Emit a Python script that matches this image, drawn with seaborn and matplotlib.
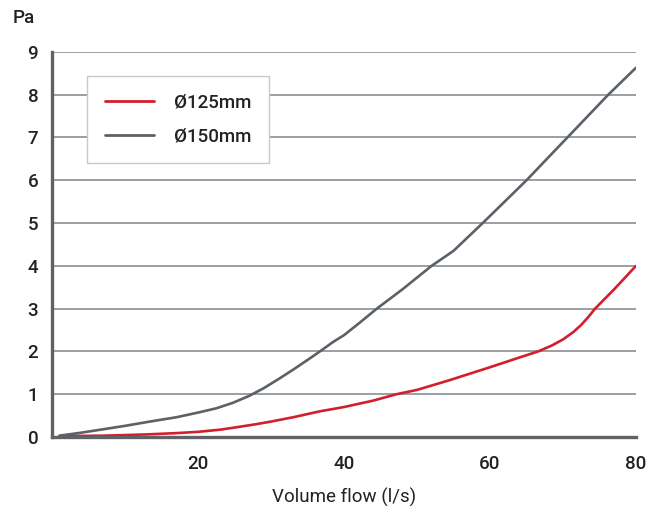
import numpy as np
import pandas as pd
import matplotlib
matplotlib.use("Agg")
import matplotlib.pyplot as plt
import seaborn as sns

# Data
x_125 = [1, 7, 13, 17, 20, 23, 25, 28, 30, 33, 36.7, 40, 44, 47.2, 50, 54.5, 60, 63, 66.6, 68.5, 70, 71.4, 72.5, 73.5, 74.4, 77, 80]
y_125 = [0.02, 0.03, 0.06, 0.09, 0.12, 0.17, 0.22, 0.3, 0.36, 0.46, 0.6, 0.7, 0.85, 1.0, 1.1, 1.33, 1.63, 1.8, 2.0, 2.14, 2.28, 2.45, 2.62, 2.81, 3.0, 3.45, 4.0]

x_150 = [1, 4, 7, 10, 13.4, 17, 20, 22.5, 24.8, 27, 29, 31, 33, 35, 36.7, 38.5, 40, 42, 44.5, 48, 52, 55, 59, 65, 70.6, 76.2, 80]
y_150 = [0.03, 0.1, 0.18, 0.26, 0.36, 0.46, 0.57, 0.67, 0.8, 0.96, 1.14, 1.35, 1.57, 1.8, 2.0, 2.22, 2.38, 2.65, 3.0, 3.45, 4.0, 4.35, 5.0, 6.0, 7.0, 8.0, 8.63]

labels = ["Ø125mm", "Ø150mm"]
x_ticks = [20, 40, 60, 80]
y_ticks = list(range(0, 10))

df = pd.concat([
    pd.DataFrame({"x": x_125, "y": y_125, "series": labels[0]}),
    pd.DataFrame({"x": x_150, "y": y_150, "series": labels[1]}),
], ignore_index=True)

sns.set_theme(style="white")
plt.rcParams['font.family'] = ['Roboto', 'DejaVu Sans']
plt.rcParams['font.weight'] = 'medium'

fig = plt.figure(figsize=(6.56, 5.09), dpi=100)
ax = fig.add_axes([0.0793, 0.1415, 0.8902, 0.7565])

palette = {labels[0]: "#d11f2b", labels[1]: "#5b6166"}
sns.lineplot(data=df, x="x", y="y", hue="series", palette=palette, ax=ax,
             linewidth=1.9, sort=True, estimator=None)

fs = 13.5
ax.set_xlim(0, 80)
ax.set_ylim(0, 9)
ax.set_xticks(x_ticks)
ax.set_yticks(y_ticks)
ax.tick_params(axis="both", length=0, labelsize=fs, colors="#222222")
ax.tick_params(axis="x", pad=13)
ax.tick_params(axis="y", pad=10)

ax.grid(axis="y", color="#80858a", linewidth=1.1)
ax.set_axisbelow(True)
for s in ["top", "right"]:
    ax.spines[s].set_visible(False)
for s in ["left", "bottom"]:
    ax.spines[s].set_color("#5f6368")
    ax.spines[s].set_linewidth(2.4)

ax.set_xlabel("Volume flow (l/s)", fontsize=fs, color="#222222", labelpad=11)
ax.set_ylabel("")
fig.text(13 / 656, 1 - 18 / 509, "Pa", fontsize=fs, color="#222222", va="center", ha="left")

leg = ax.legend(loc="upper left", bbox_to_anchor=(0.06, 0.938), fontsize=fs,
                handlelength=2.6, handletextpad=1.1, labelspacing=0.85,
                borderpad=0.95, borderaxespad=0, frameon=True, fancybox=False,
                title=None)
leg.get_frame().set_edgecolor("#c8c8c8")
leg.get_frame().set_linewidth(1.0)
leg.get_frame().set_alpha(1)
for line in leg.get_lines():
    line.set_linewidth(2.0)
for t in leg.get_texts():
    t.set_color("#222222")

fig.savefig("out.png", dpi=100)
